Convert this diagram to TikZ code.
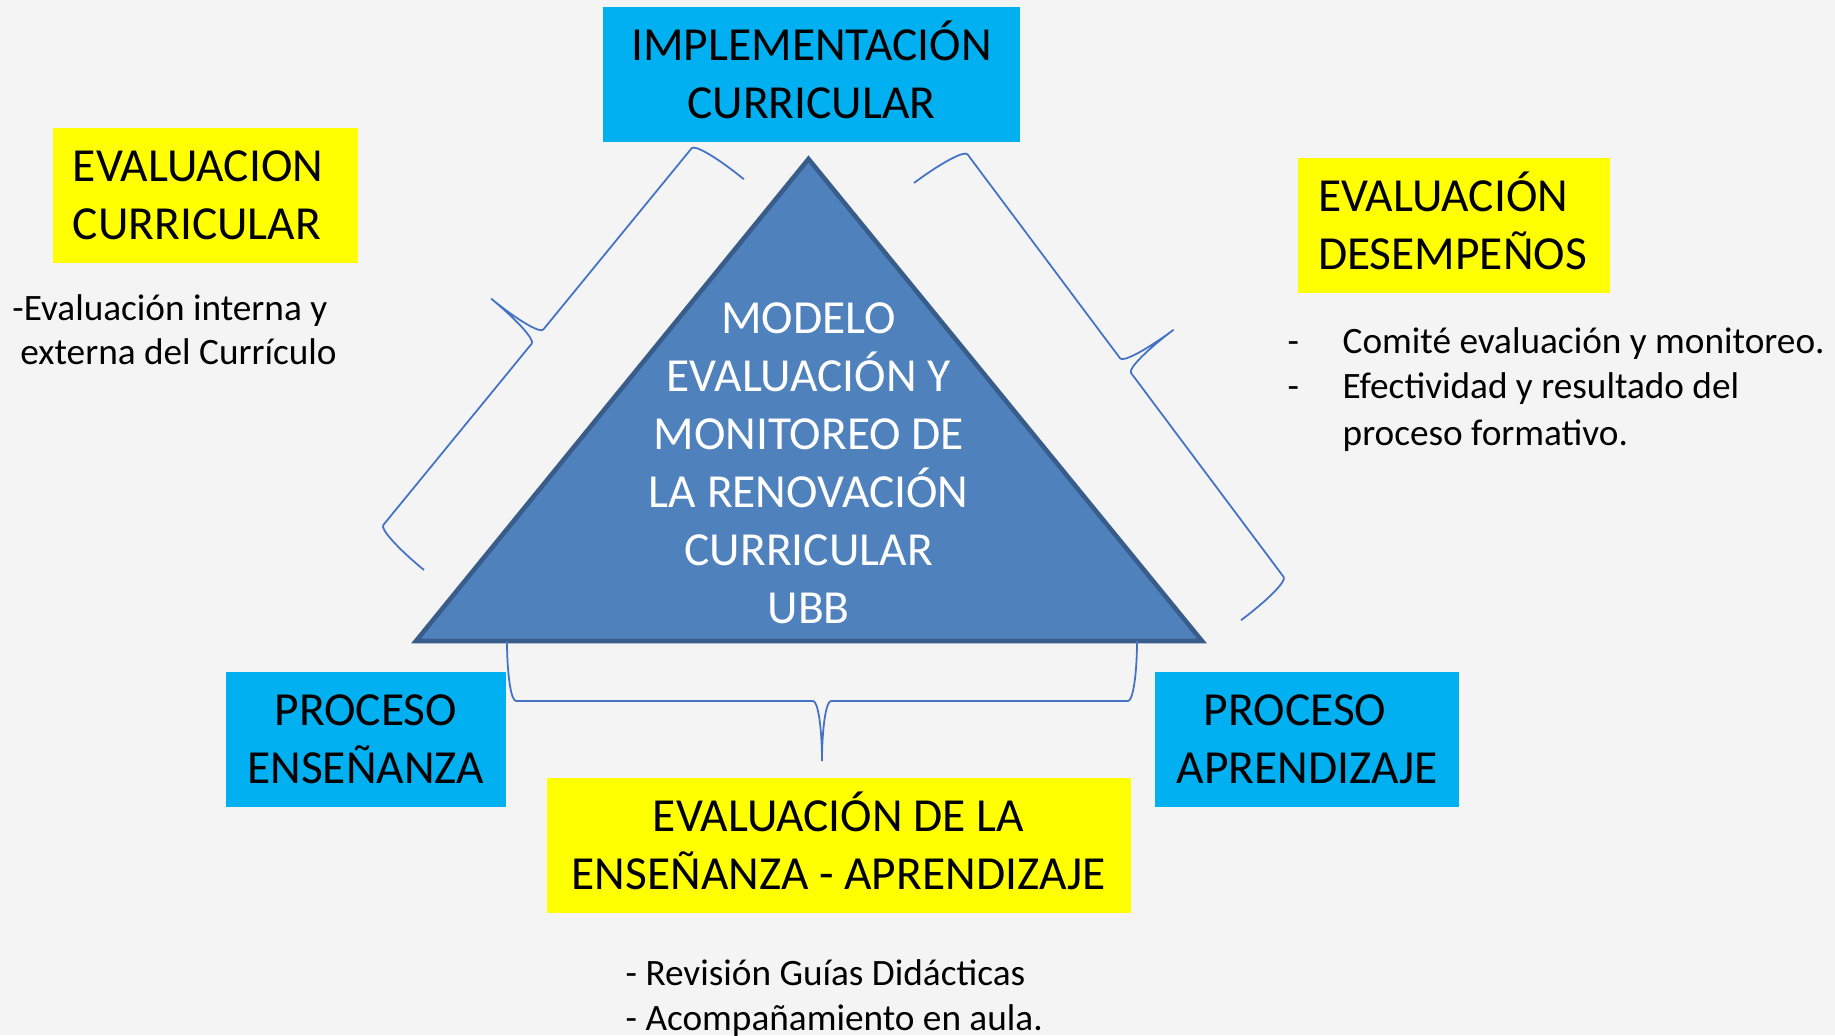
\documentclass[tikz,border=0pt]{standalone}
\usepackage{fontspec}
\setmainfont{Carlito}
\definecolor{cielo}{HTML}{00B0F0}
\definecolor{amarillo}{HTML}{FFFF00}
\definecolor{tribase}{HTML}{4F81BD}
\definecolor{triborde}{HTML}{385D8A}
\definecolor{azulllave}{HTML}{4472C4}
\definecolor{fondo}{HTML}{F4F4F4}
\newcommand{\titulo}{\fontsize{13.5}{16.5}\selectfont}
\newcommand{\nota}{\fontsize{10.6}{12.6}\selectfont}
\newcommand{\capline}[1]{\smash{#1}\vphantom{I}}

\tikzset{
  pics/llave/.style={code={
    \draw[azulllave,line width=0.5pt] (0,0) arc[start angle=180,end angle=90,x radius=0.09,y radius=0.6]
      -- ({#1/2-0.09},0.6) arc[start angle=270,end angle=360,x radius=0.09,y radius=0.6]
      arc[start angle=180,end angle=270,x radius=0.09,y radius=0.6]
      -- ({#1-0.09},0.6) arc[start angle=90,end angle=0,x radius=0.09,y radius=0.6];
  }}
}

\begin{document}
\begin{tikzpicture}[
    cajaazul/.style={fill=cielo,minimum height=1.35cm,inner sep=0pt,align=center,font=\titulo},
    cajaamarilla/.style={fill=amarillo,minimum height=1.35cm,inner xsep=0.2cm,inner ysep=0pt,align=left,font=\titulo},
    textonota/.style={inner sep=0pt,align=left,font=\nota}]
            \useasboundingbox (0,0) rectangle (18.35,10.35);
            \fill[fondo] (0,0) rectangle (18.35,10.35);
            % triangulo central
            \draw[triborde,fill=tribase,line width=1.3pt] (4.16,3.94) -- (8.085,8.76) -- (12.02,3.94) -- cycle;
            \node[text=white,align=center,font=\titulo] (modelo) at (8.087,5.716)
                {MODELO\\EVALUACIÓN Y\\MONITOREO DE\\LA RENOVACIÓN\\CURRICULAR\\UBB};
            % llaves
            \pic[rotate=50.7] at (4.24,4.65) {llave=5.05};
            \pic[rotate=-53.2] at (9.14,8.52) {llave=5.46};
            \pic[rotate=180] at (11.37,3.94) {llave=6.30};
            % cajas
            \node[cajaazul,minimum width=4.17cm] (impl) at (8.115,9.605) {\capline{IMPLEMENTACIÓN}\\CURRICULAR};
            \node[cajaazul,minimum width=2.80cm] (ensenanza) at (3.658,2.96) {PROCESO\\ENSEÑANZA};
            \node[cajaazul,minimum width=3.04cm] (aprendizaje) at (13.07,2.96) {PROCESO\hspace*{0.24cm}\\APRENDIZAJE};
            \node[cajaamarilla,text width=2.65cm] (evalcurr) at (2.055,8.40) {EVALUACION\\CURRICULAR};
            \node[cajaamarilla,text width=2.72cm] (evaldes) at (14.54,8.097) {\capline{EVALUACIÓN}\\DESEMPEÑOS};
            \node[cajaamarilla,minimum width=5.84cm,inner xsep=0pt,align=center] (evalea) at (8.385,1.895)
                {\capline{EVALUACIÓN DE LA}\\ENSEÑANZA - APRENDIZAJE};
            % notas
            \node[textonota,anchor=west] (notacurr) at (0.117,7.05)
                {-Evaluación interna y\\\hspace*{0.08cm}externa del Currículo};
            \node[textonota,anchor=west] (notades) at (12.87,6.44)
                {\begin{tabular}{@{}p{0.55cm}@{}l@{}}-&Comité evaluación y monitoreo.\\-&Efectividad y resultado del\\[1pt]&proceso formativo.\end{tabular}};
            \node[textonota,anchor=west] (notaea) at (6.25,0.37)
                {- Revisión Guías Didácticas\\- Acompañamiento en aula.};
        \end{tikzpicture}
\end{document}
